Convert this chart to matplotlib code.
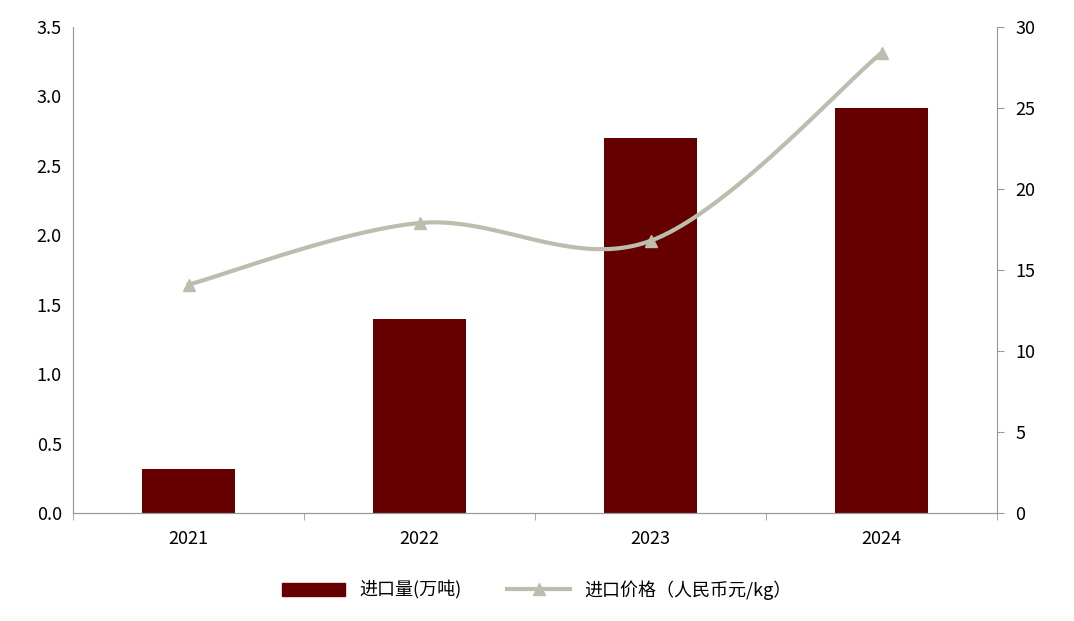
import matplotlib
matplotlib.use("Agg")
import matplotlib.pyplot as plt
import numpy as np

plt.rcParams['font.family'] = ['Noto Sans CJK SC', 'DejaVu Sans']

years = ["2021", "2022", "2023", "2024"]
volume = [0.32, 1.40, 2.70, 2.92]
price = [14.1, 17.9, 16.8, 28.4]

bar_color = "#660000"
line_color = "#BDBDAE"

fig = plt.figure(figsize=(10.74, 6.21), dpi=100)
ax = fig.add_axes([73/1074, 1-513/621, (997-73)/1074, (513-27)/621])
ax2 = ax.twinx()

x = np.arange(len(years))
ax.bar(x, volume, width=0.4, color=bar_color, label="进口量(万吨)", zorder=2)
ax.set_xlim(-0.5, len(years)-0.5)
ax.set_ylim(0, 3.5)
ax.set_yticks(np.arange(0, 3.51, 0.5))
ax.set_yticklabels([f"{v:.1f}" for v in np.arange(0, 3.51, 0.5)])
ax.set_xticks(x)
ax.set_xticklabels(years)
ax.set_xticks(np.arange(-0.5, len(years), 1), minor=True)
ax.tick_params(axis='x', which='major', length=0, pad=12, labelsize=13)
ax.tick_params(axis='x', which='minor', length=5, color="#999999")
ax.tick_params(axis='y', labelsize=13, length=0, pad=8)

# Catmull-Rom smoothing through the data points (Excel-like smooth line)
px = np.array(x, float); py = np.array(price, float)
P = np.vstack([px, py]).T
Pe = np.vstack([P[0], P, P[-1]])
sx, sy = [], []
for i in range(1, len(Pe)-2):
    p0, p1, p2, p3 = Pe[i-1], Pe[i], Pe[i+1], Pe[i+2]
    t = np.linspace(0, 1, 40)[:, None]
    c = 0.5*((2*p1) + (-p0+p2)*t + (2*p0-5*p1+4*p2-p3)*t**2 + (-p0+3*p1-3*p2+p3)*t**3)
    sx.extend(c[:, 0]); sy.extend(c[:, 1])
ax2.plot(sx, sy, color=line_color, lw=3, zorder=3)
ax2.plot(px, py, linestyle='none', marker='^', markersize=9, color=line_color, zorder=4)
ax2.set_ylim(0, 30)
ax2.set_yticks(range(0, 31, 5))
ax2.tick_params(axis='y', labelsize=13, length=5, direction='out', color="#999999", pad=8)

for a in (ax, ax2):
    a.spines['top'].set_visible(False)
ax.spines['right'].set_visible(False)
ax2.spines['left'].set_color("#999999")
ax2.spines['right'].set_color("#999999")
ax2.spines['bottom'].set_color("#999999")
ax.spines['left'].set_color("#999999")
ax.spines['bottom'].set_color("#999999")

from matplotlib.lines import Line2D
from matplotlib.patches import Patch
handles = [Patch(color=bar_color), Line2D([], [], color=line_color, lw=3, marker='^', markersize=9)]
fig.legend(handles, ["进口量(万吨)", "进口价格（人民币元/kg）"], loc='center',
           bbox_to_anchor=(0.5, 1-590/621), ncol=2, frameon=False, fontsize=13,
           handlelength=3.5, columnspacing=2.5)

fig.savefig("out.png", dpi=100)
